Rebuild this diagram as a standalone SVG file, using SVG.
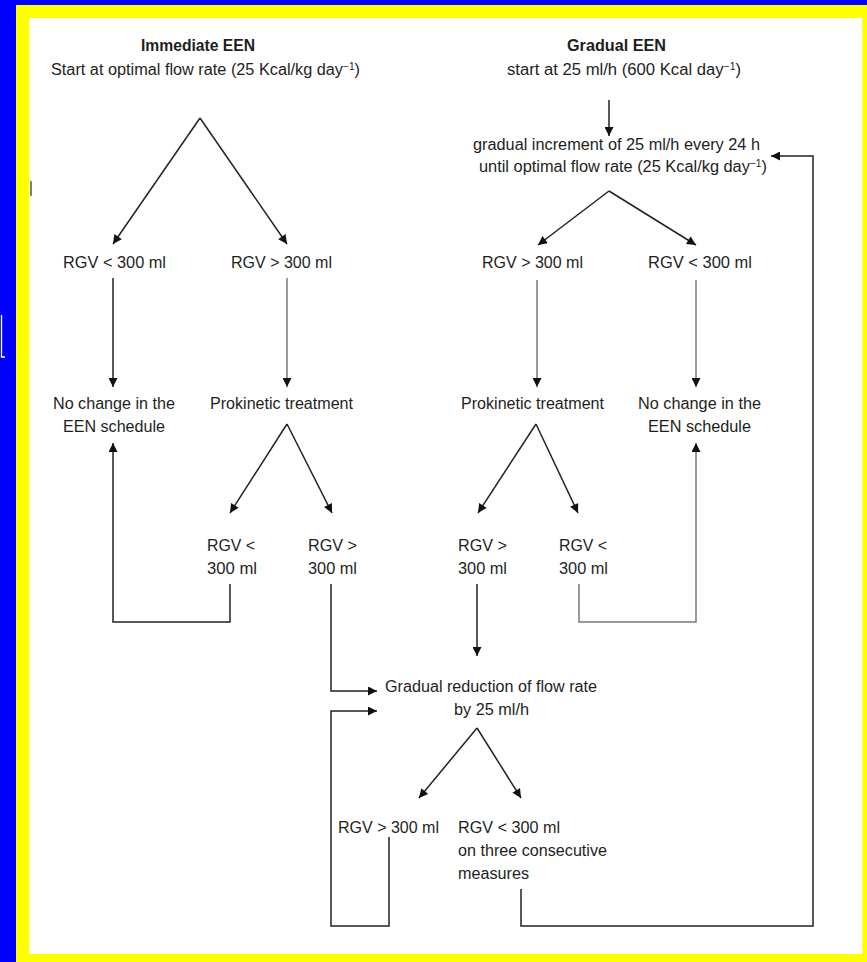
<svg xmlns="http://www.w3.org/2000/svg" width="867" height="962" viewBox="0 0 867 962">
<style>
text{font-family:"Liberation Sans",Arial,sans-serif;font-size:16px;fill:#1e1e1e;}
.b{font-weight:bold;}
.c{fill:none;stroke:#222;stroke-width:1.5;}
.g{stroke:#7a7a7a;}
.a{marker-end:url(#ah);}
</style>
<defs>
<marker id="ah" viewBox="0 0 10 10" refX="10" refY="5" markerWidth="11" markerHeight="9" markerUnits="userSpaceOnUse" orient="auto">
<path d="M0,0 L10,5 L0,10 Z" fill="#111"/>
</marker>
</defs>
<rect width="867" height="962" fill="#0000ff"/>
<rect x="16" y="5" width="851" height="957" fill="#ffff00"/>
<rect x="29.3" y="18" width="833" height="936" fill="#ffffff"/>
<polyline points="1.5,315 1.5,357 5,357" fill="none" stroke="#ffffff" stroke-width="1.3"/>
<line x1="31" y1="181" x2="31" y2="196" stroke="#555" stroke-width="1.5"/>

<g id="connectors">
<line class="c a" x1="200" y1="118" x2="113" y2="244"/>
<line class="c a" x1="200" y1="118" x2="287" y2="244"/>
<line class="c a" x1="113" y1="278" x2="113" y2="387"/>
<line class="c g a" x1="287" y1="278" x2="287" y2="387"/>
<line class="c a" x1="287" y1="424" x2="230" y2="513"/>
<line class="c a" x1="287" y1="424" x2="332" y2="513"/>
<polyline class="c a" points="230,584 230,622 113,622 113,443"/>
<polyline class="c a" points="331,584 331,691 377,691"/>

<line class="c a" x1="609" y1="100" x2="609" y2="136"/>
<polyline class="c a" points="521,889 521,926 813,926 813,156 771,156"/>
<line class="c a" x1="609" y1="191" x2="538" y2="245"/>
<line class="c a" x1="609" y1="191" x2="696" y2="245"/>
<line class="c g a" x1="537" y1="280" x2="537" y2="387"/>
<line class="c g a" x1="696" y1="280" x2="696" y2="387"/>
<line class="c a" x1="536" y1="424" x2="478" y2="513"/>
<line class="c a" x1="536" y1="424" x2="578" y2="513"/>
<polyline class="c g a" points="579,584 579,622 696,622 696,443"/>
<line class="c a" x1="477" y1="584" x2="477" y2="656"/>

<polyline class="c a" points="389,837 389,926 331,926 331,711 377,711"/>
<line class="c a" x1="477" y1="728" x2="419" y2="798"/>
<line class="c a" x1="477" y1="728" x2="521" y2="798"/>
</g>

<g id="immediate">
<text class="b" x="141" y="51" textLength="114" lengthAdjust="spacingAndGlyphs">Immediate EEN</text>
<text x="51" y="75" textLength="309" lengthAdjust="spacingAndGlyphs">Start at optimal flow rate (25 Kcal/kg day<tspan font-size="10" dy="-5">−1</tspan><tspan dy="5">)</tspan></text>
</g>
<g id="gradual">
<text class="b" x="567" y="51" textLength="99" lengthAdjust="spacingAndGlyphs">Gradual EEN</text>
<text x="507" y="75" textLength="234" lengthAdjust="spacingAndGlyphs">start at 25 ml/h (600 Kcal day<tspan font-size="10" dy="-5">−1</tspan><tspan dy="5">)</tspan></text>
</g>
<g id="increment">
<text x="473" y="150" textLength="287" lengthAdjust="spacingAndGlyphs">gradual increment of 25 ml/h every 24 h</text>
<text x="479" y="172" textLength="288" lengthAdjust="spacingAndGlyphs">until optimal flow rate (25 Kcal/kg day<tspan font-size="10" dy="-5">−1</tspan><tspan dy="5">)</tspan></text>
</g>
<g id="l-rgv-lt"><text x="63" y="268" textLength="103" lengthAdjust="spacingAndGlyphs">RGV &lt; 300 ml</text></g>
<g id="l-rgv-gt"><text x="231" y="268" textLength="101" lengthAdjust="spacingAndGlyphs">RGV &gt; 300 ml</text></g>
<g id="r-rgv-gt"><text x="482" y="268" textLength="101" lengthAdjust="spacingAndGlyphs">RGV &gt; 300 ml</text></g>
<g id="r-rgv-lt"><text x="648" y="268" textLength="104" lengthAdjust="spacingAndGlyphs">RGV &lt; 300 ml</text></g>
<g id="l-nochange">
<text x="53" y="409" textLength="122" lengthAdjust="spacingAndGlyphs">No change in the</text>
<text x="63" y="432" textLength="102" lengthAdjust="spacingAndGlyphs">EEN schedule</text>
</g>
<g id="l-prokinetic"><text x="210" y="409" textLength="143" lengthAdjust="spacingAndGlyphs">Prokinetic treatment</text></g>
<g id="r-prokinetic"><text x="461" y="409" textLength="143" lengthAdjust="spacingAndGlyphs">Prokinetic treatment</text></g>
<g id="r-nochange">
<text x="638" y="409" textLength="123" lengthAdjust="spacingAndGlyphs">No change in the</text>
<text x="648" y="432" textLength="103" lengthAdjust="spacingAndGlyphs">EEN schedule</text>
</g>
<g id="l-p-lt">
<text x="207" y="551" textLength="48" lengthAdjust="spacingAndGlyphs">RGV &lt;</text>
<text x="207" y="574" textLength="50" lengthAdjust="spacingAndGlyphs">300 ml</text>
</g>
<g id="l-p-gt">
<text x="308" y="551" textLength="49" lengthAdjust="spacingAndGlyphs">RGV &gt;</text>
<text x="308" y="574" textLength="49" lengthAdjust="spacingAndGlyphs">300 ml</text>
</g>
<g id="r-p-gt">
<text x="458" y="551" textLength="49" lengthAdjust="spacingAndGlyphs">RGV &gt;</text>
<text x="458" y="574" textLength="49" lengthAdjust="spacingAndGlyphs">300 ml</text>
</g>
<g id="r-p-lt">
<text x="559" y="551" textLength="48" lengthAdjust="spacingAndGlyphs">RGV &lt;</text>
<text x="559" y="574" textLength="49" lengthAdjust="spacingAndGlyphs">300 ml</text>
</g>
<g id="reduction">
<text x="385" y="692" textLength="212" lengthAdjust="spacingAndGlyphs">Gradual reduction of flow rate</text>
<text x="454" y="715" textLength="75" lengthAdjust="spacingAndGlyphs">by 25 ml/h</text>
</g>
<g id="b-rgv-gt"><text x="338" y="833" textLength="101" lengthAdjust="spacingAndGlyphs">RGV &gt; 300 ml</text></g>
<g id="b-rgv-lt">
<text x="458" y="833" textLength="102" lengthAdjust="spacingAndGlyphs">RGV &lt; 300 ml</text>
<text x="458" y="856" textLength="149" lengthAdjust="spacingAndGlyphs">on three consecutive</text>
<text x="458" y="879" textLength="71" lengthAdjust="spacingAndGlyphs">measures</text>
</g>
</svg>
